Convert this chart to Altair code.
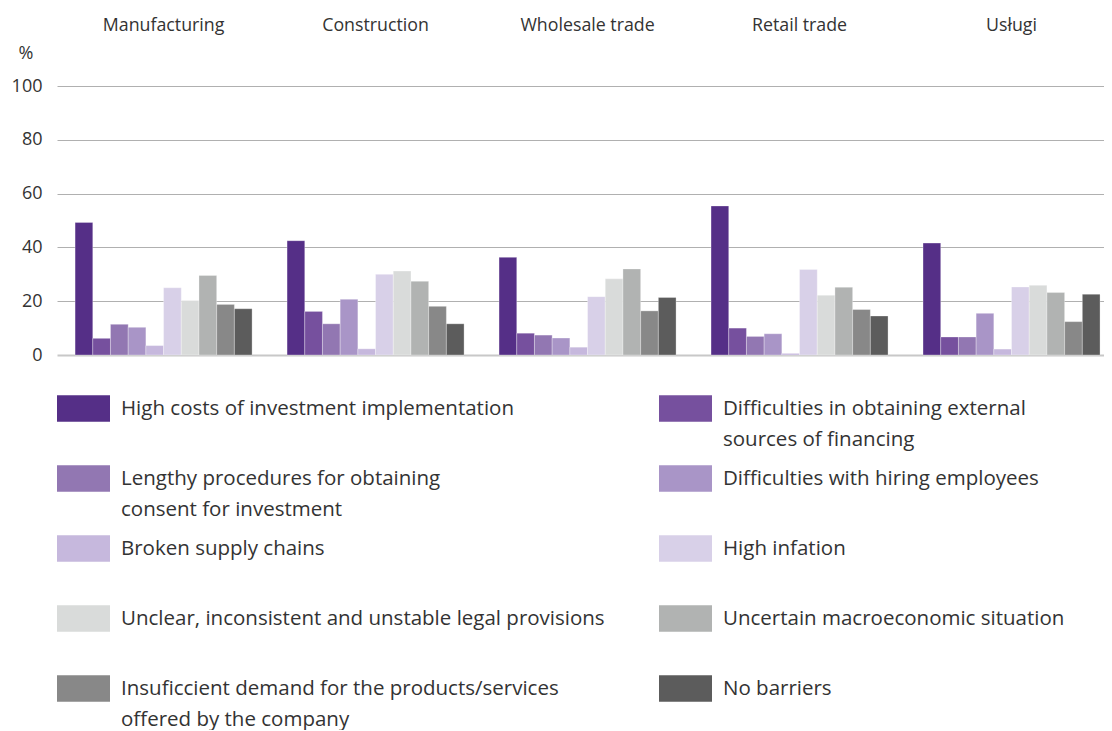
import altair as alt
import pandas as pd

industries = ["Manufacturing", "Construction", "Wholesale trade", "Retail trade", "Usługi"]
barriers = [
    "High costs of investment implementation",
    "Difficulties in obtaining external|sources of financing",
    "Lengthy procedures for obtaining|consent for investment",
    "Difficulties with hiring employees",
    "Broken supply chains",
    "High infation",
    "Unclear, inconsistent and unstable legal provisions",
    "Uncertain macroeconomic situation",
    "Insuficcient demand for the products/services|offered by the company",
    "No barriers",
]
colors = ["#552f87", "#76509e", "#9277b2", "#a995c7", "#c6b8dd",
          "#d8d0e8", "#d9dbda", "#b1b3b2", "#888888", "#5c5c5c"]

manufacturing = [49.3, 6.2, 11.4, 10.3, 3.5, 25.0, 20.3, 29.6, 18.8, 17.2]
construction = [42.5, 16.2, 11.6, 20.7, 2.3, 30.0, 31.2, 27.4, 18.1, 11.6]
wholesale = [36.3, 8.1, 7.4, 6.3, 2.9, 21.7, 28.3, 32.0, 16.4, 21.4]
retail = [55.4, 10.0, 6.9, 7.9, 0.6, 31.8, 22.2, 25.2, 16.9, 14.5]
uslugi = [41.6, 6.7, 6.7, 15.5, 2.2, 25.3, 25.9, 23.2, 12.4, 22.6]
y_ticks = [0, 20, 40, 60, 80, 100]

series = [manufacturing, construction, wholesale, retail, uslugi]
rows = []
for ind, vals in zip(industries, series):
    for b, v in zip(barriers, vals):
        rows.append({"industry": ind, "barrier": b, "value": v})
df = pd.DataFrame(rows)

FONT = "Open Sans"
TXT = "#333333"

chart = alt.Chart(df).mark_bar(stroke="white", strokeWidth=0.6, strokeOpacity=0.5).encode(
    x=alt.X("industry:N", sort=industries,
            scale=alt.Scale(paddingInner=0.165, paddingOuter=0.052, align=0.82),
            axis=alt.Axis(orient="top", title=None, ticks=False, domain=False, labelAngle=0,
                          labelFontSize=17.8, labelFont=FONT, labelColor=TXT, labelPadding=52)),
    xOffset=alt.XOffset("barrier:N", sort=barriers, scale=alt.Scale(paddingInner=0, paddingOuter=0)),
    y=alt.Y("value:Q", scale=alt.Scale(domain=[0, 100]),
            axis=alt.Axis(values=y_ticks, title="%", titleAngle=0, titleAlign="left",
                          titleBaseline="middle", titleX=-39, titleY=-33, titleFont=FONT,
                          titleFontSize=18, titleFontWeight="normal", titleColor=TXT,
                          ticks=False, tickSize=0, domain=False, labelPadding=15,
                          labelFont=FONT, labelFontSize=18, labelColor=TXT,
                          gridColor=alt.condition("datum.value === 0", alt.value("#c8c8c8"), alt.value("#b0b0b0")),
                          gridWidth=alt.condition("datum.value === 0", alt.value(2), alt.value(1)))),
    color=alt.Color("barrier:N", sort=barriers,
                    scale=alt.Scale(domain=barriers, range=colors),
                    legend=alt.Legend(title=None, orient="none", legendX=0, legendY=296,
                                      direction="horizontal",
                                      columns=2, columnPadding=54, rowPadding=2,
                                      symbolType="M-1,-0.5H1V0.5H-1Z", symbolSize=2809,
                                      symbolStrokeWidth=0, symbolOpacity=1,
                                      labelFont=FONT, labelFontSize=20.5, labelColor=TXT,
                                      labelLimit=700, labelOffset=11,
                                      labelExpr="split(datum.label + (indexof(datum.label, '|') < 0 ? '|' : ''), '|')")),
).properties(
    width=1047, height=269,
    padding={"left": 3, "top": 8, "right": 0, "bottom": 0},
).configure(
    style={"guide-label": {"lineHeight": 31}}
).configure_view(stroke=None)

chart.save("out.html", embed_options={"renderer": "svg", "actions": False})
